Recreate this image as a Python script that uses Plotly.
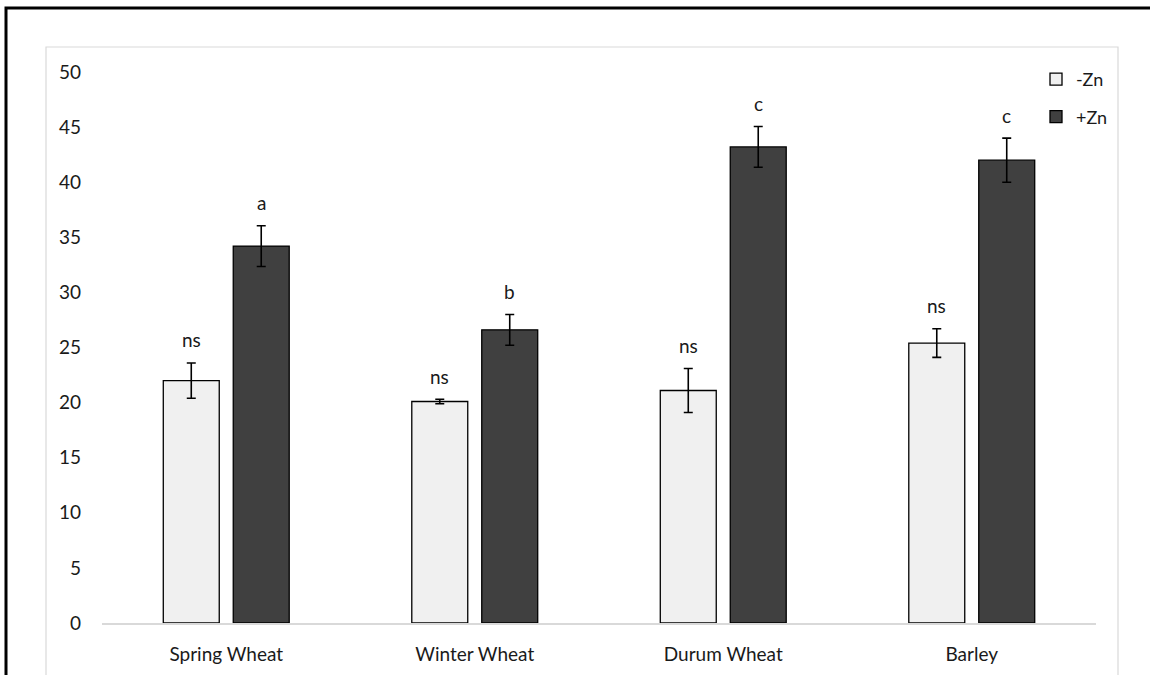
import plotly.graph_objects as go

categories = ["Spring Wheat", "Winter Wheat", "Durum Wheat", "Barley"]
minus_zn = [22.0, 20.1, 21.1, 25.4]
minus_zn_err = [1.6, 0.2, 2.0, 1.3]
plus_zn = [34.2, 26.6, 43.2, 42.0]
plus_zn_err = [1.85, 1.4, 1.85, 2.0]
minus_labels = ["ns", "ns", "ns", "ns"]
plus_labels = ["a", "b", "c", "c"]
series_names = ["-Zn", "+Zn"]

W, H = 1150, 675
ML, MR, MT, MB = 102, 54, 72, 52
PW, PH = W - ML - MR, H - MT - MB

def px(x):
    return (x - ML) / PW

def py(y):
    return (H - MB - y) / PH

font_family = "Lato, 'Open Sans', sans-serif"
text_color = "#1a1a1a"

fig = go.Figure()
fig.add_trace(go.Bar(
    x=categories, y=minus_zn, name=series_names[0], legendgroup="g1",
    marker=dict(color="#f0f0f0", line=dict(color="#000000", width=1.3)),
    error_y=dict(type="data", array=minus_zn_err, color="#000000", thickness=1.6, width=4.5),
))
fig.add_trace(go.Bar(
    x=categories, y=plus_zn, name=series_names[1], legendgroup="g2",
    marker=dict(color="#404040", line=dict(color="#000000", width=1.3)),
    error_y=dict(type="data", array=plus_zn_err, color="#000000", thickness=1.6, width=4.5),
))

annotations = []
for i, c in enumerate(categories):
    for vals, errs, labs, off in ((minus_zn, minus_zn_err, minus_labels, -0.141), (plus_zn, plus_zn_err, plus_labels, 0.141)):
        annotations.append(dict(
            x=i + off, y=vals[i] + errs[i], xref="x", yref="y",
            text=labs[i], showarrow=False, yanchor="middle", yshift=23,
            font=dict(family=font_family, size=19, color=text_color),
        ))

shapes = [
    dict(type="rect", xref="paper", yref="paper",
         x0=px(46), x1=px(1118), y0=py(H + 5), y1=py(47),
         line=dict(color="#d9d9d9", width=1.2), fillcolor="rgba(0,0,0,0)", layer="below"),
    dict(type="path", xref="paper", yref="paper",
         path=f"M {px(6)} {py(H + 5)} L {px(6)} {py(8)} L {px(W + 5)} {py(8)}",
         line=dict(color="#000000", width=3)),
]

fig.update_layout(
    width=W, height=H,
    margin=dict(l=ML, r=MR, t=MT, b=MB, autoexpand=False),
    paper_bgcolor="white", plot_bgcolor="white",
    barmode="group", bargap=0.437, bargroupgap=0.2,
    font=dict(family=font_family, size=19, color=text_color),
    showlegend=True,
    legend=dict(x=px(1036), y=py(61), xanchor="left", yanchor="top",
                traceorder="grouped", tracegroupgap=11,
                font=dict(size=18, color=text_color), bgcolor="rgba(0,0,0,0)",
                itemwidth=30),
    annotations=annotations,
    shapes=shapes,
)
fig.update_xaxes(
    type="category", showgrid=False, showline=True, linecolor="#d9d9d9", linewidth=1.5,
    ticks="", tickfont=dict(size=19, color=text_color), ticklabelstandoff=13,
    automargin=False,
)
fig.update_yaxes(
    range=[0, 50], dtick=5, showgrid=False, showline=False, zeroline=False,
    ticks="", tickfont=dict(size=19, color=text_color), ticklabelstandoff=20,
    automargin=False,
)

fig.write_html("out.html", config={"displayModeBar": False},
               post_script="document.body.style.margin='0';")
